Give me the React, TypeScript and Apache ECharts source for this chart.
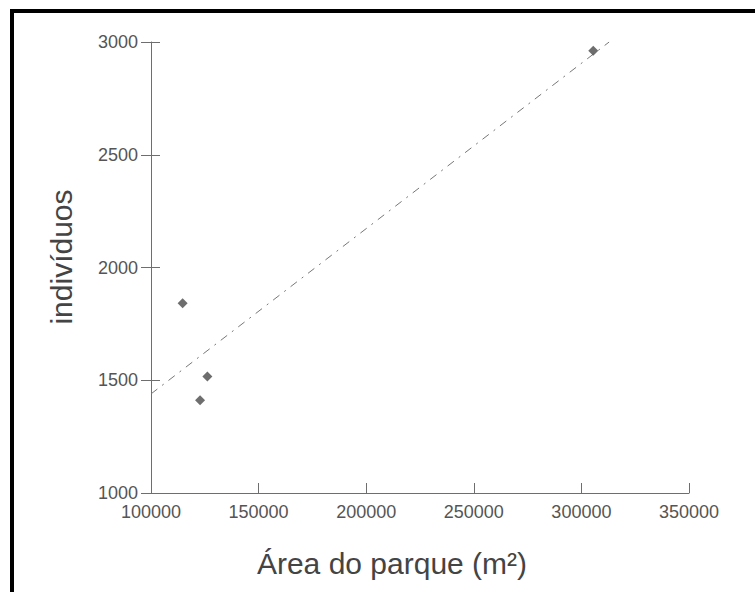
import React, { useEffect, useRef } from "react";
import * as echarts from "echarts";

const areaValues: number[] = [114700, 126200, 122800, 305500];
const individuosValues: number[] = [1842, 1517, 1411, 2961];
const xTicks = { min: 100000, max: 350000, interval: 50000 };
const yTicks = { min: 1000, max: 3000, interval: 500 };
const xTitle = "Área do parque (m²)";
const yTitle = "indivíduos";

function regression(xs: number[], ys: number[]) {
  const n = xs.length;
  const mx = xs.reduce((a, b) => a + b, 0) / n;
  const my = ys.reduce((a, b) => a + b, 0) / n;
  let sxy = 0;
  let sxx = 0;
  for (let i = 0; i < n; i++) {
    sxy += (xs[i] - mx) * (ys[i] - my);
    sxx += (xs[i] - mx) * (xs[i] - mx);
  }
  const slope = sxy / sxx;
  return { slope, intercept: my - slope * mx };
}

export default function App() {
  const ref = useRef<HTMLDivElement>(null);
  useEffect(() => {
    if (!ref.current) return;
    const chart = echarts.init(ref.current, undefined, { renderer: "svg" });
    const { slope, intercept } = regression(areaValues, individuosValues);
    const x0 = xTicks.min;
    let x1 = (yTicks.max - intercept) / slope;
    if (x1 > xTicks.max) x1 = xTicks.max;
    const trend = [
      [x0, intercept + slope * x0],
      [x1, intercept + slope * x1],
    ];
    const font = "'Liberation Sans', Arial, sans-serif";
    const axisColor = "#6e6e6e";
    const plain = (v: number) => String(v);
    chart.setOption({
      animation: false,
      backgroundColor: "#ffffff",
      grid: { left: 151, top: 42, right: 66, bottom: 99, containLabel: false },
      xAxis: {
        type: "value",
        min: xTicks.min,
        max: xTicks.max,
        interval: xTicks.interval,
        splitLine: { show: false },
        axisLine: { show: true, lineStyle: { color: axisColor, width: 1 } },
        axisTick: { show: true, inside: true, length: 10, lineStyle: { color: axisColor } },
        axisLabel: { color: "#555", fontSize: 18, fontFamily: font, margin: 10, formatter: plain },
      },
      yAxis: [
        {
          type: "value",
          min: yTicks.min,
          max: yTicks.max,
          interval: yTicks.interval,
          splitLine: { show: false },
          axisLine: { show: true, lineStyle: { color: axisColor, width: 1 } },
          axisTick: { show: true, inside: false, length: 10, lineStyle: { color: axisColor } },
          axisLabel: { color: "#555", fontSize: 18, fontFamily: font, margin: 13, formatter: plain },
        },
        {
          type: "value",
          position: "left",
          min: yTicks.min,
          max: yTicks.max,
          interval: yTicks.interval,
          splitLine: { show: false },
          axisLine: { show: false },
          axisTick: { show: true, inside: true, length: 9, lineStyle: { color: axisColor } },
          axisLabel: { show: false },
        },
      ],
      graphic: [
        {
          type: "line",
          shape: { x1: 10, y1: 11, x2: 760, y2: 11 },
          style: { stroke: "#000", lineWidth: 4 },
        },
        {
          type: "line",
          shape: { x1: 12, y1: 9, x2: 12, y2: 600 },
          style: { stroke: "#000", lineWidth: 4 },
        },
        {
          type: "text",
          x: 392,
          y: 563,
          style: {
            text: xTitle,
            font: `30px ${font}`,
            fill: "#444",
            textAlign: "center",
            textVerticalAlign: "middle",
          },
        },
        {
          type: "text",
          x: 61,
          y: 257,
          rotation: Math.PI / 2,
          style: {
            text: yTitle,
            font: `30px ${font}`,
            fill: "#444",
            textAlign: "center",
            textVerticalAlign: "middle",
          },
        },
      ],
      series: [
        {
          type: "line",
          data: trend,
          showSymbol: false,
          symbol: "none",
          silent: true,
          lineStyle: { color: "#777777", width: 1, type: [8, 6, 2, 6] },
          z: 1,
        },
        {
          type: "scatter",
          data: areaValues.map((x, i) => [x, individuosValues[i]]),
          symbol: "diamond",
          symbolSize: 10,
          itemStyle: { color: "#4a4a4a" },
          z: 2,
        },
      ],
    });
    return () => chart.dispose();
  }, []);
  return (
    <div
      ref={ref}
      style={{ position: "absolute", left: 0, top: 0, width: 755, height: 592 }}
    />
  );
}
